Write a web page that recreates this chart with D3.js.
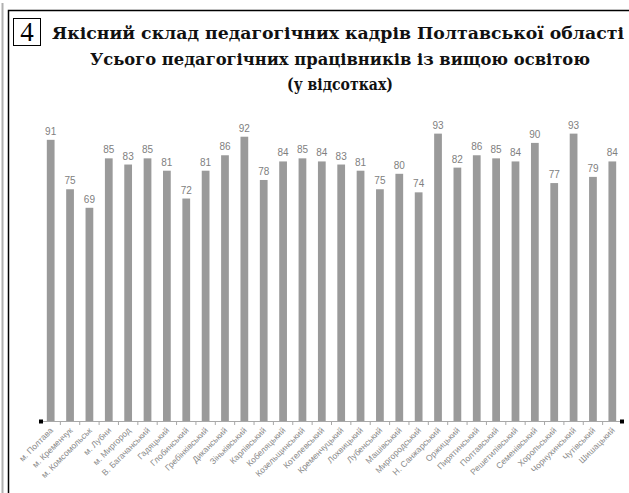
<!DOCTYPE html>
<html>
<head>
<meta charset="utf-8">
<script src="https://cdn.jsdelivr.net/npm/d3@7/dist/d3.min.js"></script>
<style>
html,body{margin:0;padding:0;background:#fff;}
body{position:relative;width:629px;height:493px;overflow:hidden;}
svg{display:block;position:absolute;left:0;top:0;}
.ttl{position:absolute;white-space:nowrap;font-family:"DejaVu Serif","Liberation Serif",serif;font-weight:bold;color:#111;line-height:1;transform-origin:0 0;}
.num{position:absolute;font-family:"Liberation Serif",serif;font-size:27px;line-height:1;color:#000;}
</style>
</head>
<body>
<script>
const categories = ["м. Полтава","м. Кременчук","м. Комсомольськ","м. Лубни","м. Миргород","В. Багачанський","Гадяцький","Глобинський","Гребінківський","Диканський","Зіньківський","Карлівський","Кобеляцький","Козельщинський","Котелевський","Кременчуцький","Лохвицький","Лубенський","Машівський","Миргородський","Н. Санжарський","Оржицький","Пирятинський","Полтавський","Решетилівський","Семенівський","Хорольський","Чорнухинський","Чутівський","Шишацький"];
const values = [91,75,69,85,83,85,81,72,81,86,92,78,84,85,84,83,81,75,80,74,93,82,86,85,84,90,77,93,79,84];
const titleLines = ["Якісний склад педагогічних кадрів Полтавської області","Усього педагогічних працівників із вищою освітою","(у відсотках)"];
const chartNumber = "4";

const W = 629, H = 493;
const svg = d3.select("body").append("svg").attr("width", W).attr("height", H);
const sans = '"Liberation Sans", Arial, sans-serif';

// outer decorations
svg.append("line").attr("x1",2.5).attr("x2",2.5).attr("y1",3).attr("y2",H)
  .attr("stroke","#b0b0b0").attr("stroke-width",2);
svg.append("rect").attr("x",8.5).attr("y",10.5).attr("width",W+10).attr("height",H+10)
  .attr("fill","none").attr("stroke","#000").attr("stroke-width",1.5);

// number box
svg.append("rect").attr("x",13.5).attr("y",18.5).attr("width",27).attr("height",27)
  .attr("fill","none").attr("stroke","#000").attr("stroke-width",1);
svg.append("text").attr("x",27).attr("y",41).attr("text-anchor","middle")
  .style("font-family",'"Liberation Serif", serif').style("font-size","27px").attr("fill","#000")
  .text(chartNumber);

// titles as HTML text (serif bold), fitted to measured widths
const titleSpecs = [
  {cx:338, top:25, len:572, size:17},
  {cx:340, top:52, len:500, size:16},
  {cx:340, top:77, len:106, size:16}
];
titleLines.forEach((t,i)=>{
  const s = titleSpecs[i];
  const div = d3.select("body").append("div").attr("class","ttl")
    .style("font-size",s.size+"px").style("top",s.top+"px").style("left","0px")
    .text(t);
  const w = div.node().getBoundingClientRect().width;
  const k = s.len / w;
  div.style("left",(s.cx - s.len/2)+"px").style("transform",`scaleX(${k})`);
});

// scales
const x = d3.scaleBand().domain(categories).range([41,622]).paddingInner(0.6).paddingOuter(0.3);
const y = d3.scaleLinear().domain([0,100]).range([421,112]);

// bars
svg.append("g").selectAll("rect").data(values).join("rect")
  .attr("x",(d,i)=>x(categories[i]))
  .attr("y",d=>y(d))
  .attr("width",x.bandwidth())
  .attr("height",d=>y(0)-y(d))
  .attr("fill","#9a9a9a");

// value labels
svg.append("g").selectAll("text").data(values).join("text")
  .attr("x",(d,i)=>x(categories[i])+x.bandwidth()/2)
  .attr("y",d=>y(d)-5)
  .attr("text-anchor","middle")
  .style("font-family",sans).style("font-size","10px")
  .attr("fill","#808080")
  .text(d=>d);

// axis
const step = x.step();
const x0 = x.range()[0], x1 = x.range()[1];
svg.append("line").attr("x1",x0).attr("x2",x1).attr("y1",y(0)+0.5).attr("y2",y(0)+0.5)
  .attr("stroke","#a8a8a8").attr("stroke-width",1);
const tickPos = d3.range(1,categories.length).map(i=>x0+i*step);
svg.append("g").selectAll("line").data(tickPos).join("line")
  .attr("x1",d=>d).attr("x2",d=>d).attr("y1",y(0)).attr("y2",y(0)+4)
  .attr("stroke","#a8a8a8").attr("stroke-width",1);
[x0,x1].forEach(px=>{
  svg.append("rect").attr("x",px-2).attr("y",y(0)-1.5).attr("width",4).attr("height",4).attr("fill","#000");
});

// category labels
svg.append("g").selectAll("text").data(categories).join("text")
  .attr("transform",d=>`translate(${x(d)+x.bandwidth()/2+3},${y(0)+10}) rotate(-45)`)
  .attr("text-anchor","end")
  .style("font-family",sans).style("font-size","8.5px")
  .attr("fill","#8a8a8a")
  .text(d=>d);
</script>
</body>
</html>
